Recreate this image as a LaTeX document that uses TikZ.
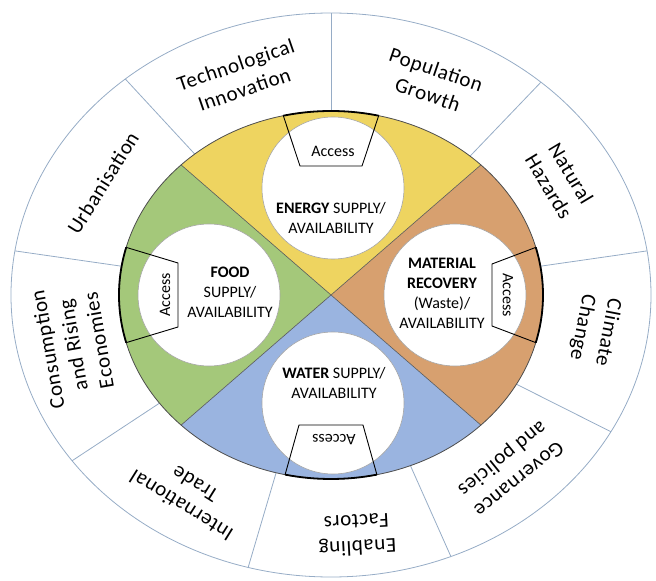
\documentclass[tikz,border=0pt]{standalone}
\usepackage{fontspec}
\setmainfont{Carlito}

\definecolor{energyc}{RGB}{238,212,96}
\definecolor{foodc}{RGB}{164,200,122}
\definecolor{wastec}{RGB}{215,160,111}
\definecolor{waterc}{RGB}{154,180,224}
\definecolor{spokec}{RGB}{150,172,198}

\begin{document}
\begin{tikzpicture}
	[x=1pt,y=1pt,
	 ringlabel/.style={align=center,font=\fontsize{21}{26}\selectfont\addfontfeatures{LetterSpace=3}},
	 corelabel/.style={align=center,font=\fontsize{16}{20}\selectfont},
	 gatelabel/.style={font=\fontsize{16}{20}\selectfont},
	 spoke/.style={draw=spokec,line width=0.8pt},
	 hole/.style={circle,fill=white,draw=black!35,line width=0.6pt,minimum size=142pt},
	 gate/.style={draw=black,line width=0.9pt},
	 gatearc/.style={draw=black,line width=1.8pt}]
\useasboundingbox (-331,-286) rectangle (325,295);
% outer ring and its nine segments
\draw[spoke] (0,0) ellipse [x radius=320pt,y radius=282pt];
\foreach \a in {90,49,9,-29,-68,-105,-144,171,130}
\draw[spoke] (\a:212 and 184) -- (\a:320 and 282);
% the four quarters of the core
\foreach \col/\s in {wastec/-45,energyc/45,foodc/135,waterc/225}
\fill[\col] (0,0) -- (\s:212 and 184)
  arc[start angle=\s,delta angle=90,x radius=212pt,y radius=184pt] -- cycle;
\draw[black!65,line width=0.6pt] (45:212 and 184) -- (225:212 and 184)
(135:212 and 184) -- (315:212 and 184);
\draw[black!70,line width=0.8pt] (0,0) ellipse [x radius=212pt,y radius=184pt];
% white discs
\node[hole] (energy) at (2,107) {};
\node[hole] (food) at (-122,0) {};
\node[hole] (waste) at (124,0) {};
\node[hole] (water) at (2,-108) {};
% access gates
\draw[gate] (77:212 and 184) -- (31,129) -- (-31,129) -- (103:212 and 184);
\draw[gatearc] (77:212 and 184) arc[start angle=77,end angle=103,x radius=212pt,y radius=184pt];
\draw[gate] (165:212 and 184) -- (-153,32) -- (-153,-32) -- (195:212 and 184);
\draw[gatearc] (165:212 and 184) arc[start angle=165,end angle=195,x radius=212pt,y radius=184pt];
\draw[gate] (15:212 and 184) -- (161,31) -- (161,-31) -- (-15:212 and 184);
\draw[gatearc] (-15:212 and 184) arc[start angle=-15,end angle=15,x radius=212pt,y radius=184pt];
\draw[gate] (257.5:212 and 184) -- (-32,-130) -- (32,-130) -- (282.5:212 and 184);
\draw[gatearc] (257.5:212 and 184) arc[start angle=257.5,end angle=282.5,x radius=212pt,y radius=184pt];
\node[gatelabel] (energyg) at (2,144) {Access};
\node[gatelabel,rotate=90] (foodg) at (-166,0) {Access};
\node[gatelabel,rotate=-90] (wasteg) at (177,0) {Access};
\node[gatelabel,rotate=180] (waterg) at (3,-145) {Access};
% core texts
\node[corelabel] (energyt) at (0,77) {\textbf{ENERGY} SUPPLY/\\AVAILABILITY};
\node[corelabel] (foodt) at (-101,3) {\textbf{FOOD}\\SUPPLY/\\AVAILABILITY};
\node[corelabel] (wastet) at (111,2) {\textbf{MATERIAL}\\\textbf{RECOVERY}\\(Waste)/\\AVAILABILITY};
\node[corelabel] (watert) at (3,-88) {\textbf{WATER} SUPPLY/\\AVAILABILITY};
% ring texts
\node[ringlabel,rotate=19] (tech) at (-91,218) {Technological\\Innovation};
\node[ringlabel,rotate=-19] (pop) at (101,213) {Population\\Growth};
\node[ringlabel,rotate=-59] (hazard) at (229,115) {Natural\\Hazards};
\node[ringlabel,rotate=-101] (climate) at (264,-35) {Climate\\Change};
\node[ringlabel,rotate=-141] (gov) at (179,-173) {Governance\\and policies};
\node[ringlabel,rotate=-177] (enable) at (26,-240) {Enabling\\Factors};
\node[ringlabel,rotate=148] (trade) at (-143,-200) {International\\Trade};
\node[ringlabel,rotate=100] (consume) at (-258,-50) {Consumption\\and Rising\\Economies};
\node[ringlabel,rotate=58] (urban) at (-228,112) {Urbanisation};
\end{tikzpicture}
\end{document}
